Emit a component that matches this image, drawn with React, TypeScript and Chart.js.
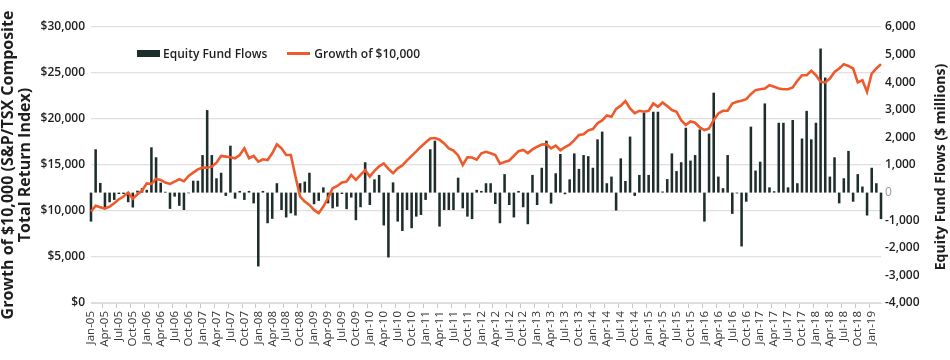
import React, { useEffect, useRef } from "react";
import { Chart, registerables } from "chart.js";

Chart.register(...registerables);

const MONTHS = ["Jan", "Feb", "Mar", "Apr", "May", "Jun", "Jul", "Aug", "Sep", "Oct", "Nov", "Dec"];
const START_YEAR = 2005;
const POINT_COUNT = 171; // Jan-05 .. Mar-19

const categories: string[] = [];
for (let k = 0; k < POINT_COUNT; k++) {
  const y = START_YEAR + Math.floor(k / 12);
  categories.push(`${MONTHS[k % 12]}-${String(y).slice(2)}`);
}

// Equity fund flows ($ millions), monthly
const equityFundFlows = [
  -1050, 1570, 350, -540, -350, -265, -50, -50, -350, -540, 70, 160,
  100, 1640, 1280, 360, 30, -590, -145, -480, -630, -25, 430, 430,
  1360, 2990, 1360, 520, 720, -120, 1700, -220, 60, -265, 60, -390,
  -2675, 60, -1110, -950, 340, -630, -900, -750, -830, 340, 400, 720,
  -420, -300, 190, -390, -570, -510, -50, -600, -180, -1000, -530, 1100,
  -450, 480, 640, -1190, -2350, 370, -1050, -1390, -630, -1290, -870, -810,
  -265, 1570, 1880, -1230, -630, -630, -630, 540, -570, -870, -960, 100,
  60, 340, 340, -410, -1110, 670, -450, -900, 60, -530, -1145, 640,
  -450, 900, 1880, -400, 700, 1400, -60, 480, 1420, 860, 1360, 1320,
  900, 1930, 2210, 340, 580, -650, 1240, 420, 2030, -120, 640, 2890,
  640, 2930, 2930, 40, 490, 1420, 780, 1100, 2350, 1160, 1360, 2290,
  -1050, 2140, 3620, 580, 160, 1360, -770, -30, -1950, -330, 2390, 800,
  1120, 3230, 190, 50, 2530, 2530, 190, 2630, 340, 1960, 2960, 1930,
  2530, 5220, 4170, 580, 1280, -390, 520, 1510, -330, 670, 220, -830,
  900, 340, -960,
];

// Growth of $10,000 (S&P/TSX Composite Total Return Index)
const growthOf10000 = [
  9950, 10560, 10410, 10270, 10480, 10850, 11280, 11570, 12000, 11350, 11820, 12220,
  13000, 12940, 13480, 13380, 13090, 12940, 13200, 13450, 13230, 13810, 14170, 14530,
  14710, 14710, 14820, 15250, 15980, 15910, 15840, 15730, 16090, 16810, 15730, 15980,
  15360, 15620, 15540, 16270, 17240, 16810, 16090, 16090, 13740, 11570, 11030, 10660,
  10120, 9760, 10480, 11390, 12470, 12720, 13100, 13200, 13920, 13380, 13920, 14430,
  13740, 14370, 14850, 15180, 14580, 14100, 14640, 14950, 15500, 16000, 16480, 16990,
  17440, 17890, 17930, 17750, 17350, 16810, 16560, 16040, 15000, 15830, 15810, 15580,
  16270, 16430, 16270, 16090, 15150, 15320, 15490, 16000, 16500, 16630, 16300, 16700,
  16990, 17220, 17260, 16810, 17100, 16600, 16950, 17200, 17710, 18260, 18340, 18770,
  18900, 19550, 19850, 20390, 20240, 21100, 21450, 21960, 21150, 20640, 20890, 20790,
  20890, 21690, 21330, 21800, 21400, 20970, 20790, 19880, 19340, 19740, 19590, 19090,
  18800, 18980, 19880, 20610, 20890, 20890, 21690, 21870, 21980, 22160, 22700, 23140,
  23240, 23320, 23680, 23500, 23320, 23240, 23240, 23420, 24150, 24760, 24760, 25230,
  24760, 24040, 23970, 24400, 25120, 25490, 25960, 25770, 25490, 23970, 24220, 22960,
  24940, 25490, 25960,
];

const LEFT_TITLE = ["Growth of $10,000 (S&P/TSX Composite", "Total Return Index)"];
const RIGHT_TITLE = "Equity Fund Flows ($ millions)";
const BAR_LABEL = "Equity Fund Flows";
const LINE_LABEL = "Growth of $10,000";

const FONT = '"Open Sans", "DejaVu Sans", sans-serif';
const BAR_COLOR = "#1f2e2c";
const LINE_COLOR = "#ef5a2c";
const TEXT = "#1e1e1e";

export default function App() {
  const canvasRef = useRef<HTMLCanvasElement | null>(null);

  useEffect(() => {
    document.body.style.margin = "0";
    const canvas = canvasRef.current;
    if (!canvas) return;

    const rightTitle = {
      id: "rightTitle",
      afterDraw(chart: any) {
        const { ctx, chartArea } = chart;
        ctx.save();
        ctx.translate(941, (chartArea.top + chartArea.bottom) / 2 + 2);
        ctx.rotate(-Math.PI / 2);
        ctx.font = `bold 14px ${FONT}`;
        ctx.fillStyle = TEXT;
        ctx.textAlign = "center";
        ctx.textBaseline = "middle";
        ctx.fillText(RIGHT_TITLE, 0, 0);
        ctx.restore();
      },
    };

    const chart = new Chart(canvas, {
      type: "bar",
      data: {
        labels: categories,
        datasets: [
          {
            type: "line",
            label: LINE_LABEL,
            data: growthOf10000,
            yAxisID: "y",
            borderColor: LINE_COLOR,
            backgroundColor: LINE_COLOR,
            borderWidth: 2.6,
            pointRadius: 0,
            tension: 0,
            order: 0,
          } as any,
          {
            type: "bar",
            label: BAR_LABEL,
            data: equityFundFlows,
            yAxisID: "y1",
            backgroundColor: BAR_COLOR,
            barPercentage: 1,
            categoryPercentage: 0.55,
            order: 1,
            clip: 6,
          } as any,
        ],
      },
      options: {
        responsive: false,
        animation: false,
        layout: { padding: { top: 27, left: 0, right: 0, bottom: 0 } },
        plugins: {
          legend: { display: false },
          tooltip: { enabled: false },
        },
        scales: {
          x: {
            offset: false,
            grid: {
              drawOnChartArea: false,
              drawTicks: true,
              tickLength: 5,
              tickColor: (ctx: any) => (ctx.index % 3 === 0 ? "#c8c8c8" : "rgba(0,0,0,0)"),
            },
            border: { display: true, color: "#dcdcdc" },
            ticks: {
              autoSkip: false,
              maxRotation: 90,
              minRotation: 90,
              padding: 3,
              color: "#333",
              font: { family: FONT, size: 11.5 },
              callback: (_v: any, i: number) => (i % 3 === 0 ? categories[i] : ""),
            },
            afterFit: (scale: any) => {
              scale.height = 57;
            },
          },
          y: {
            position: "left",
            min: 0,
            max: 30000,
            ticks: {
              stepSize: 5000,
              padding: 6,
              color: TEXT,
              font: { family: FONT, size: 12, weight: "600" },
              callback: (v: any) => "$" + Number(v).toLocaleString("en-US"),
            },
            grid: { color: "#e0e0e0", lineWidth: 1.2, drawTicks: false },
            border: { display: false },
            title: {
              display: true,
              text: LEFT_TITLE,
              color: TEXT,
              font: { family: FONT, size: 16, weight: "bold", lineHeight: 1.08 },
              padding: { top: 0, bottom: 0 },
            },
            afterFit: (scale: any) => {
              scale.width = 91;
            },
          },
          y1: {
            position: "right",
            min: -4000,
            max: 6000,
            ticks: {
              stepSize: 1000,
              padding: 4,
              color: (ctx: any) => (ctx.tick && ctx.tick.value === 0 ? "#9a9a9a" : TEXT),
              font: (ctx: any) =>
                ctx.tick && ctx.tick.value === 0
                  ? { family: FONT, size: 12, weight: "normal" }
                  : { family: FONT, size: 12, weight: "600" },
              callback: (v: any) => (Number(v) === 0 ? "0" : Number(v).toLocaleString("en-US")),
            },
            grid: { display: false, drawTicks: false },
            border: { display: false },
            afterFit: (scale: any) => {
              scale.width = 69;
            },
          },
        },
      } as any,
      plugins: [rightTitle],
    });

    return () => chart.destroy();
  }, []);

  const legendText: React.CSSProperties = {
    fontFamily: FONT,
    fontWeight: 600,
    fontSize: 12,
    color: TEXT,
    whiteSpace: "nowrap",
  };

  return (
    <div style={{ position: "relative", width: 950, height: 360 }}>
      <canvas ref={canvasRef} width={950} height={360} style={{ display: "block" }} />
      <div style={{ position: "absolute", left: 137, top: 45, display: "flex", alignItems: "center" }}>
        <span style={{ display: "inline-block", width: 23, height: 7, background: BAR_COLOR, marginRight: 3 }} />
        <span style={legendText}>{BAR_LABEL}</span>
        <span style={{ display: "inline-block", width: 23, height: 3, background: LINE_COLOR, marginLeft: 20, marginRight: 4 }} />
        <span style={legendText}>{LINE_LABEL}</span>
      </div>
    </div>
  );
}
